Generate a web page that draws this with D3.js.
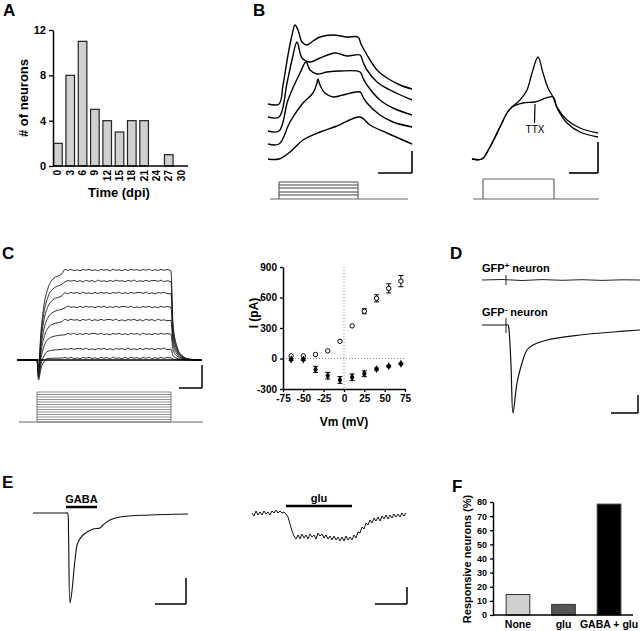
<!DOCTYPE html>
<html><head><meta charset="utf-8">
<script src="https://cdn.jsdelivr.net/npm/d3@7"></script>
<style>
body{margin:0;background:#fff}
svg{font-family:"Liberation Sans",Arial,Helvetica,sans-serif}
</style>
</head><body>
<svg id="fig" width="640" height="631"></svg>
<script>
// ================= DATA =================
// Panel A : histogram
const aCategories = ["0","3","6","9","12","15","18","21","24","27","30"];
const aCounts = [2,8,11,5,4,3,4,4,0,1,0];
const aYTicks = [0,4,8,12];

// Panel B left : voltage traces [ms, mV] (relative units)
const bTrace1 = [[-11,61],[0,61],[4,80],[9,110],[13,130],[16,140],[19,135],[23,123],[28,120],[34,124],[41,128],[54,130],[68,128],[79,128],[82,121],[88,110],[98,95],[108,87],[121,80],[133,76]];
const bTrace2 = [[-11,48],[0,48],[8,82],[13,105],[18,123],[23,107],[31,103],[41,107],[56,112],[68,109],[81,110],[84,103],[88,95],[98,83],[111,75],[133,65]];
const bTrace3 = [[-11,34],[0,34],[9,65],[21,92],[27,103],[31,95],[38,91],[48,93],[61,94],[81,93],[84,87],[88,80],[101,65],[114,57],[133,50]];
const bTrace4 = [[-11,21],[0,21],[11,43],[24,62],[34,72],[38,82],[39,86],[41,80],[46,72],[54,68],[64,70],[81,73],[84,68],[88,62],[101,50],[114,43],[133,38]];
const bTrace5 = [[-11,6],[0,6],[11,13],[24,25],[41,33],[58,39],[81,48],[91,40],[108,32],[133,21]];
const bLeftTraces = [bTrace1,bTrace2,bTrace3,bTrace4,bTrace5];
const bStimLevels = [4,7,11,14,17];
const bStimOn = 0, bStimOff = 79, bStimStart = -9, bStimEnd = 129;
// Panel B right : control vs TTX
const bSpike = [[-10,6],[0,6],[8,18],[18,38],[25,52],[30,58],[38,65],[45,75],[50,92],[56,108],[61,92],[66,77],[71,68],[75,58],[85,45],[98,37],[116,32]];
const bTTX = [[-10,6],[0,6],[8,18],[18,38],[25,52],[30,58],[41,62],[53,63],[71,68],[75,57],[85,42],[98,33],[116,28]];
const bRStimOn = 1, bRStimOff = 72, bRStimStart = -9, bRStimEnd = 117, bRStimLevel = 20;

// Panel C left : whole-cell currents (plateau amplitude and early inward dip)
const cPlateau = [90,79,67,53,40,26,11,2];
const cDip = [-6,-8,-10,-12,-14,-16,-18,-20];
const cRiseT = [-20,0,1.5,4,7,11,16,25];
const cRiseAct = [0,0,0,0.35,0.62,0.8,0.9,0.96];
const cRiseDip = [0,0,1,0.45,0.15,0,0,0];
const cPlatT = [28,31,34,37,40,43,46,49,52,55,58,61,64,67,70,73,76,79,82,85,88,91,94,97,100,103,106,109,112,115,118,121,124,127,130];
const cWiggle = [0.6,-0.4,0.8,-0.7,0.2,-0.9,0.5,-0.2,0.7,-0.6,0.3,-0.8,0.7,-0.3,0.5,-0.9,0.9,-0.4,0.2,-0.7,0.6,-0.5,0.8,-0.2,0.4,-0.8,0.6,-0.3,0.9,-0.6,0.3,-0.5,0.7,-0.4,0.5];
const cOffT = [134,136,140,145,152,165];
const cOffAct = [0.99,0.4,0.15,0.05,0.01,0];
const cStimSteps = [0,1,2,3,4,5,6,7,8,9,10,11,12];

// Panel C right : I-V relation
const ivVm = [-65,-50,-35,-20,-5,10,25,40,55,70];
const ivOut = [26,26,39,75,169,321,465,592,690,761];
const ivOutErr = [0,0,0,0,0,0,25,35,45,55];
const ivIn = [-10,-10,-107,-169,-211,-185,-150,-104,-75,-52];
const ivInErr = [8,8,30,33,33,33,28,10,8,8];
const ivXTicks = [-75,-50,-25,0,25,50,75];
const ivYTicks = [-300,0,300,600,900];

// Panel D : GFP+ / GFP- responses
const dGfpPos = [[0,0],[20,0.5],[40,-0.5],[60,0.4],[80,-0.3],[100,0.3],[120,-0.4],[140,0.2],[158,0]];
const dGfpNeg = [[0,0],[23,0],[26,0],[27,-5],[29,-40],[31,-88],[35,-58],[40,-38],[45,-25],[51,-20],[65,-15],[98,-10],[131,-7],[158,-5]];
const dArtifactT = 24;

// Panel E : puff responses
const eGaba = [[0,0],[17,0],[33,0],[34.5,0],[35.5,-20],[37,-90],[38.7,-80],[42,-47],[44.7,-30],[50,-22],[60,-16],[67,-15],[70,-12],[77,-7],[87,-4],[117,-2],[155,-1]];
const eGabaBar = [33,64];
const eGluDt = 2;
const eGlu = [0,-3,2,-2,1,-2,2,-1,1,-2,2,0,3,0,2,0,1,-1,-4,-11,-18,-23,-26,-22,-26,-21,-25,-22,-26,-21,-24,-22,-26,-20,-23,-21,-25,-22,-26,-23,-27,-23,-27,-24,-28,-24,-28,-23,-27,-24,-27,-22,-25,-19,-20,-14,-16,-10,-12,-7,-10,-5,-8,-4,-8,-3,-6,-2,-6,-2,-5,-1,-4,-1,-4,0,-3,0];
const eGluBar = [34,100];

// Panel F : responsive neurons
const fCategories = ["None","glu","GABA + glu"];
const fValues = [14.5,7.5,78.5];
const fColors = ["#cfcfcf","#555555","#000000"];
const fYTicks = [0,10,20,30,40,50,60,70,80];

// ================= DRAWING =================
const svg = d3.select("#fig");
const BOLD = "bold";
const plainFmt = d => String(d);
function label(txt,x,y){
  svg.append("text").attr("x",x).attr("y",y).text(txt)
    .attr("font-size",17).attr("font-weight",BOLD);
}
function trace(g,data,x,y,opts={}){
  const line = d3.line().x(d=>x(d[0])).y(d=>y(d[1]))
    .curve(opts.curve || d3.curveCatmullRom.alpha(0.5));
  return g.append("path").datum(data).attr("d",line).attr("fill","none")
    .attr("stroke",opts.color||"#000").attr("stroke-width",opts.width||1.3)
    .attr("stroke-linejoin","round");
}
function seg(g,x1,y1,x2,y2,color,w){
  return g.append("line").attr("x1",x1).attr("y1",y1).attr("x2",x2).attr("y2",y2)
    .attr("stroke",color||"#000").attr("stroke-width",w||1.5);
}
function styleAxis(sel,fs){
  sel.selectAll("path").attr("stroke","#000").attr("stroke-width",1.5);
  sel.selectAll("line").attr("stroke","#000").attr("stroke-width",1.3);
  sel.selectAll("text").attr("font-size",fs).attr("font-weight",BOLD)
    .attr("font-family","Liberation Sans, Arial, sans-serif").attr("fill","#000");
}

// ---------- Panel A ----------
label("A",3,16);
{
  const g = svg.append("g");
  const x = d3.scaleBand().domain(aCategories).range([53,186]).paddingInner(0.3).paddingOuter(0.05);
  const y = d3.scaleLinear().domain([0,12]).range([166,30]);
  g.selectAll("rect").data(aCounts).join("rect")
    .attr("x",(d,i)=>x(aCategories[i])).attr("width",x.bandwidth())
    .attr("y",d=>y(d)).attr("height",d=>y(0)-y(d))
    .attr("fill","#d0d0d0").attr("stroke","#222").attr("stroke-width",1.2);
  const ya = g.append("g").attr("transform","translate(53,0)")
    .call(d3.axisLeft(y).tickValues(aYTicks).tickSize(4).tickSizeOuter(0));
  styleAxis(ya,11);
  const xa = g.append("g").attr("transform",`translate(0,${y(0)})`)
    .call(d3.axisBottom(x).tickSize(0));
  xa.select("path").remove();
  styleAxis(xa,10);
  xa.selectAll("text").attr("transform","rotate(-90)").attr("x",-4).attr("y",0)
    .attr("dy","0.35em").style("text-anchor","end");
  seg(g,53,y(0),188,y(0),"#000",1.5);
  g.append("text").attr("transform",`translate(28,98) rotate(-90)`).attr("text-anchor","middle")
    .attr("font-size",13).attr("font-weight",BOLD).text("# of neurons");
  g.append("text").attr("x",119).attr("y",197).attr("text-anchor","middle")
    .attr("font-size",13).attr("font-weight",BOLD).text("Time (dpi)");
}

// ---------- Panel B ----------
label("B",253,16);
{
  const g = svg.append("g");
  const x = d3.scaleLinear().domain([-11,133]).range([268,412]);
  const y = d3.scaleLinear().domain([0,140]).range([165,25]);
  bLeftTraces.forEach(t=>trace(g,t,x,y,{width:1.4}));
  seg(g,x(133),y(14),x(133),y(-8),"#000",1.6);
  seg(g,x(99),y(-8),x(133),y(-8),"#000",1.6);
  const ys = d3.scaleLinear().domain([0,20]).range([199,179]);
  const sc = "#666";
  seg(g,x(bStimStart),ys(0),x(bStimEnd),ys(0),sc,1.2);
  seg(g,x(bStimOn),ys(0),x(bStimOn),ys(d3.max(bStimLevels)),sc,1.2);
  seg(g,x(bStimOff),ys(0),x(bStimOff),ys(d3.max(bStimLevels)),sc,1.2);
  bStimLevels.forEach(l=>seg(g,x(bStimOn),ys(l),x(bStimOff),ys(l),"#444",1));

  const xr = d3.scaleLinear().domain([-10,116]).range([472,598]);
  trace(g,bSpike,xr,y,{width:1.3});
  trace(g,bTTX,xr,y,{width:1.3});
  seg(g,xr(53),y(61),xr(52.5),y(42),"#000",1.2);
  g.append("text").attr("x",xr(53)).attr("y",y(32)).attr("text-anchor","middle")
    .attr("font-size",10).attr("fill","#000").text("TTX");
  seg(g,xr(116),y(23),xr(116),y(-8),"#000",1.6);
  seg(g,xr(87),y(-8),xr(116),y(-8),"#000",1.6);
  seg(g,xr(bRStimStart),ys(0),xr(bRStimEnd),ys(0),sc,1.2);
  seg(g,xr(bRStimOn),ys(0),xr(bRStimOn),ys(bRStimLevel),sc,1.2);
  seg(g,xr(bRStimOff),ys(0),xr(bRStimOff),ys(bRStimLevel),sc,1.2);
  seg(g,xr(bRStimOn),ys(bRStimLevel),xr(bRStimOff),ys(bRStimLevel),sc,1.2);
}

// ---------- Panel C ----------
label("C",2,259);
{
  const g = svg.append("g");
  const x = d3.scaleLinear().domain([-20,165]).range([17,202]);
  const y = d3.scaleLinear().domain([-40,100]).range([400,260]);
  cPlateau.forEach((P,k)=>{
    const pts = cRiseT.map((t,i)=>[t, P*cRiseAct[i] + cDip[k]*cRiseDip[i]]);
    cPlatT.forEach((t,i)=>pts.push([t, P + cWiggle[(i+k*5)%cWiggle.length]]));
    cOffT.forEach((t,i)=>pts.push([t, P*cOffAct[i]]));
    trace(g,pts,x,y,{width:0.9,color:"#1a1a1a",curve:d3.curveMonotoneX});
  });
  seg(g,x(-20),y(0),x(165),y(0),"#000",1.6);
  seg(g,x(165),y(-5),x(165),y(-28),"#000",1.5);
  seg(g,x(142),y(-28),x(165),y(-28),"#000",1.5);
  const ys = d3.scaleLinear().domain([0,12]).range([422,392]);
  const sc = "#777";
  seg(g,x(-18),ys(0),x(166),ys(0),"#999",1.5);
  seg(g,x(0),ys(0),x(0),ys(12),sc,1);
  seg(g,x(134),ys(0),x(134),ys(12),sc,1);
  cStimSteps.forEach(s=>seg(g,x(0),ys(s),x(134),ys(s),sc,0.8));
}
{
  const g = svg.append("g");
  const x = d3.scaleLinear().domain([-75,75]).range([283,405]);
  const y = d3.scaleLinear().domain([-300,900]).range([389,267]);
  seg(g,x(0),y(900),x(0),y(-300),"#888",1).attr("stroke-dasharray","1,2");
  seg(g,x(-75),y(0),x(75),y(0),"#888",1).attr("stroke-dasharray","1,2");
  const eb = (vx,vy,e)=>{ if(!e) return;
    seg(g,x(vx),y(vy-e),x(vx),y(vy+e),"#000",1);
    seg(g,x(vx)-2.5,y(vy-e),x(vx)+2.5,y(vy-e),"#000",1);
    seg(g,x(vx)-2.5,y(vy+e),x(vx)+2.5,y(vy+e),"#000",1);
  };
  ivVm.forEach((v,i)=>{eb(v,ivOut[i],ivOutErr[i]); eb(v,ivIn[i],ivInErr[i]);});
  g.selectAll("circle.o").data(ivVm).join("circle").attr("class","o")
    .attr("cx",d=>x(d)).attr("cy",(d,i)=>y(ivOut[i])).attr("r",2.2)
    .attr("fill","#fff").attr("stroke","#000").attr("stroke-width",1);
  g.selectAll("path.f").data(ivVm).join("path").attr("class","f")
    .attr("d",d3.symbol(d3.symbolDiamond).size(18))
    .attr("transform",(d,i)=>`translate(${x(d)},${y(ivIn[i])})`).attr("fill","#000");
  const ya = g.append("g").attr("transform",`translate(${x(-75)},0)`)
    .call(d3.axisLeft(y).tickValues(ivYTicks).tickFormat(plainFmt).tickSize(3).tickSizeOuter(0));
  styleAxis(ya,10);
  const xa = g.append("g").attr("transform",`translate(0,${y(-300)})`)
    .call(d3.axisBottom(x).tickValues(ivXTicks).tickFormat(plainFmt).tickSize(3).tickSizeOuter(0));
  styleAxis(xa,10);
  g.append("text").attr("transform",`translate(258,313) rotate(-90)`).attr("text-anchor","middle")
    .attr("font-size",12).attr("font-weight",BOLD).text("I (pA)");
  g.append("text").attr("x",344).attr("y",426).attr("text-anchor","middle")
    .attr("font-size",12).attr("font-weight",BOLD).text("Vm (mV)");
}

// ---------- Panel D ----------
label("D",450,259);
{
  const g = svg.append("g");
  const x = d3.scaleLinear().domain([0,158]).range([482,640]);
  const y1 = d3.scaleLinear().domain([-10,10]).range([290,270]);
  const y2 = d3.scaleLinear().domain([-100,10]).range([425,315]);
  const t1 = g.append("text").attr("x",482).attr("y",272).attr("font-size",11).attr("font-weight",BOLD);
  t1.append("tspan").text("GFP");
  t1.append("tspan").attr("baseline-shift","super").attr("font-size",8).text("+");
  t1.append("tspan").attr("baseline-shift","0").text(" neuron");
  const t2 = g.append("text").attr("x",482).attr("y",316).attr("font-size",11).attr("font-weight",BOLD);
  t2.append("tspan").text("GFP");
  t2.append("tspan").attr("baseline-shift","super").attr("font-size",8).text("-");
  t2.append("tspan").attr("baseline-shift","0").text(" neuron");
  trace(g,dGfpPos,x,y1,{width:1,color:"#222",curve:d3.curveLinear});
  seg(g,x(dArtifactT),y1(5),x(dArtifactT),y1(-5),"#222",1);
  trace(g,dGfpNeg,x,y2,{width:1.2,color:"#111"});
  seg(g,x(dArtifactT),y2(7),x(dArtifactT),y2(-8),"#222",1);
  seg(g,x(156),y2(-70),x(156),y2(-88),"#000",1.5);
  seg(g,x(129),y2(-88),x(156),y2(-88),"#000",1.5);
}

// ---------- Panel E ----------
label("E",2,488);
{
  const g = svg.append("g");
  const x = d3.scaleLinear().domain([0,155]).range([33,188]);
  const y = d3.scaleLinear().domain([-100,10]).range([613,503]);
  trace(g,eGaba,x,y,{width:1.1,color:"#111"});
  seg(g,x(eGabaBar[0]),y(6),x(eGabaBar[1]),y(6),"#000",2.5);
  g.append("text").attr("x",x((eGabaBar[0]+eGabaBar[1])/2)).attr("y",y(10)).attr("text-anchor","middle")
    .attr("font-size",11).attr("font-weight",BOLD).text("GABA");
  seg(g,x(153),y(-65),x(153),y(-91),"#000",1.5);
  seg(g,x(122),y(-91),x(153),y(-91),"#000",1.5);

  const xr = d3.scaleLinear().domain([0,155]).range([252,407]);
  const yr = d3.scaleLinear().domain([-40,10]).range([553,503]);
  const glu = eGlu.map((v,i)=>[i*eGluDt,v]);
  trace(g,glu,xr,yr,{width:1,color:"#111",curve:d3.curveLinear});
  seg(g,xr(eGluBar[0]),yr(7),xr(eGluBar[1]),yr(7),"#000",2.5);
  g.append("text").attr("x",xr((eGluBar[0]+eGluBar[1])/2)).attr("y",yr(11)).attr("text-anchor","middle")
    .attr("font-size",11).attr("font-weight",BOLD).text("glu");
  seg(g,xr(155),yr(-74),xr(155),yr(-91),"#000",1.5);
  seg(g,xr(123),yr(-91),xr(155),yr(-91),"#000",1.5);
}

// ---------- Panel F ----------
label("F",452,492);
{
  const g = svg.append("g");
  const x = d3.scaleBand().domain(fCategories).range([497,630]).paddingInner(0.48).paddingOuter(0.2);
  const y = d3.scaleLinear().domain([0,80]).range([615,502]);
  g.selectAll("rect").data(fValues).join("rect")
    .attr("x",(d,i)=>x(fCategories[i])).attr("width",x.bandwidth())
    .attr("y",d=>y(d)).attr("height",d=>y(0)-y(d))
    .attr("fill",(d,i)=>fColors[i]).attr("stroke","#333").attr("stroke-width",1);
  const ya = g.append("g").attr("transform","translate(493,0)")
    .call(d3.axisLeft(y).tickValues(fYTicks).tickSize(3).tickSizeOuter(0));
  styleAxis(ya,9);
  seg(g,493,y(0),633,y(0),"#000",1.5);
  fCategories.forEach(c=>{
    g.append("text").attr("x",x(c)+x.bandwidth()/2).attr("y",628).attr("text-anchor","middle")
      .attr("font-size",10.5).attr("font-weight",BOLD).text(c);
  });
  g.append("text").attr("transform",`translate(471,559) rotate(-90)`).attr("text-anchor","middle")
    .attr("font-size",11).attr("font-weight",BOLD).text("Responsive neurons (%)");
}
</script>
</body></html>
